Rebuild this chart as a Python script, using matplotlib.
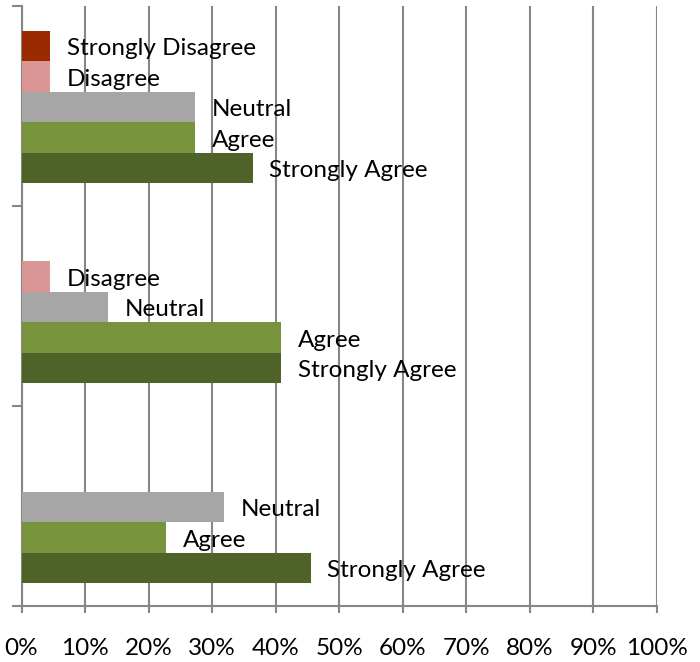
import numpy as np
import matplotlib
matplotlib.use("Agg")
import matplotlib.pyplot as plt

plt.rcParams['font.family'] = ['Lato', 'DejaVu Sans']

# groups from bottom to top
groups = ["Group 1", "Group 2", "Group 3"]
responses = ["Strongly Agree", "Agree", "Neutral", "Disagree", "Strongly Disagree"]
colors = ["#4F6228", "#77933C", "#A6A6A6", "#D99694", "#9C2A00"]

# percent of respondents, one list per response, values for each group
strongly_agree = [45.5, 40.9, 36.4]
agree = [22.7, 40.9, 27.3]
neutral = [31.8, 13.6, 27.3]
disagree = [0.0, 4.5, 4.5]
strongly_disagree = [0.0, 0.0, 4.5]
series = [strongly_agree, agree, neutral, disagree, strongly_disagree]

fig = plt.figure(figsize=(7, 6.62), dpi=100)
ax = fig.add_axes([21.5/700, 56/662, (657-21.5)/700, 600/662])

y = np.arange(len(groups))
h = 0.1525
for k, (name, vals, c) in enumerate(zip(responses, series, colors)):
    pos = y + (k - 2) * h - 0.005
    ax.barh(pos, vals, height=h, color=c, zorder=3)
    for yy, v in zip(pos, vals):
        if v > 0:
            ax.annotate(name, (v, yy), xytext=(12, -2), textcoords="offset points",
                        ha="left", va="center", fontsize=17.5, color="black")

ax.set_xlim(0, 100)
ax.set_ylim(-0.5, 2.5)
ax.set_xticks(np.arange(0, 101, 10))
ax.set_xticklabels([f"{v}%" for v in range(0, 101, 10)], fontsize=17.5)
ax.set_yticks([-0.5, 0.5, 1.5, 2.5])
ax.set_yticklabels([])
ax.grid(axis="x", color="#868686", linewidth=1.5, zorder=0)
for s in ["top", "right"]:
    ax.spines[s].set_visible(False)
for s in ["left", "bottom"]:
    ax.spines[s].set_color("#868686")
    ax.spines[s].set_linewidth(1.5)
ax.tick_params(axis="x", length=5, width=1.5, color="#868686", pad=18)
ax.tick_params(axis="y", length=7.5, width=1.5, color="#868686")

fig.savefig("out.png", dpi=100)
